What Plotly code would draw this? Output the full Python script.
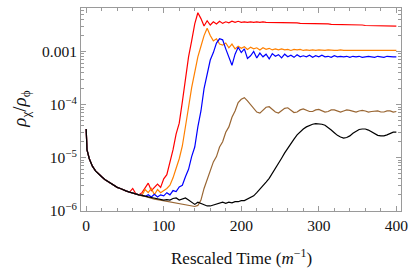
import plotly.graph_objects as go

# ---- data (log10 of rho_chi / rho_phi) ----
head_times = [0, 1] + list(range(4, 53, 4))
tail_times = list(range(56, 401, 4))
times = head_times + tail_times

baseline_log = [-4.46, -4.85, -5.02, -5.16, -5.25, -5.31, -5.36, -5.41, -5.45,
                -5.49, -5.53, -5.56, -5.58, -5.61, -5.63]

red_log = [
    -5.65, -5.58, -5.68, -5.70, -5.66, -5.58, -5.48, -5.62, -5.55, -5.50,
    -5.56, -5.40, -5.32, -5.10, -4.85, -4.55, -4.35, -3.95, -3.55, -3.10,
    -2.80, -2.48, -2.27, -2.38, -2.52, -2.42, -2.50, -2.44, -2.48, -2.43,
    -2.47, -2.44, -2.46, -2.43, -2.45, -2.43, -2.45, -2.44, -2.45, -2.44,
    -2.45, -2.44, -2.45, -2.44, -2.45, -2.45, -2.45, -2.45, -2.46, -2.45,
    -2.46, -2.46, -2.46, -2.46, -2.46, -2.47, -2.47, -2.47, -2.47, -2.47,
    -2.48, -2.48, -2.48, -2.48, -2.48, -2.49, -2.49, -2.49, -2.49, -2.49,
    -2.49, -2.50, -2.50, -2.50, -2.50, -2.50, -2.51, -2.51, -2.51, -2.51,
    -2.51, -2.51, -2.52, -2.52, -2.52, -2.52, -2.52]

orange_log = [
    -5.65, -5.67, -5.68, -5.70, -5.71, -5.60, -5.66, -5.58, -5.70, -5.60,
    -5.66, -5.62, -5.58, -5.52, -5.38, -5.20, -5.02, -4.78, -4.45, -4.05,
    -3.68, -3.35, -3.10, -2.90, -2.70, -2.56, -2.70, -2.80, -2.76, -2.86,
    -2.88, -2.84, -2.93, -2.86, -2.95, -2.90, -2.94, -2.91, -2.96, -2.92,
    -2.95, -2.93, -2.97, -2.93, -2.96, -2.94, -2.97, -2.95, -2.97, -2.95,
    -2.97, -2.96, -2.98, -2.96, -2.97, -2.96, -2.98, -2.97, -2.98, -2.97,
    -2.98, -2.97, -2.98, -2.98, -2.97, -2.98, -2.98, -2.98, -2.97, -2.98,
    -2.98, -2.98, -2.99, -2.98, -2.98, -2.98, -2.98, -2.99, -2.98, -2.98,
    -2.98, -2.98, -2.98, -2.98, -2.98, -2.98, -2.98]

blue_log = [
    -5.65, -5.67, -5.68, -5.70, -5.71, -5.73, -5.70, -5.74, -5.69, -5.74,
    -5.70, -5.72, -5.66, -5.70, -5.62, -5.64, -5.55, -5.52, -5.36, -5.22,
    -4.98, -4.80, -4.42, -4.12, -3.70, -3.45, -3.16, -3.02, -2.84, -2.76,
    -2.78, -2.95, -3.12, -3.26, -3.05, -2.92, -3.02, -2.95, -3.13, -3.08,
    -3.00, -3.12, -3.03, -3.10, -3.05, -3.14, -3.04, -3.09, -3.06, -3.12,
    -3.05, -3.10, -3.07, -3.11, -3.06, -3.10, -3.08, -3.10, -3.07, -3.11,
    -3.08, -3.10, -3.07, -3.10, -3.09, -3.11, -3.08, -3.10, -3.09, -3.10,
    -3.09, -3.11, -3.09, -3.10, -3.09, -3.11, -3.10, -3.09, -3.10, -3.11,
    -3.09, -3.10, -3.11, -3.09, -3.10, -3.10, -3.10]

brown_log = [
    -5.65, -5.67, -5.68, -5.70, -5.72, -5.73, -5.75, -5.76, -5.78, -5.79,
    -5.80, -5.81, -5.82, -5.83, -5.84, -5.85, -5.86, -5.87, -5.88, -5.89,
    -5.90, -5.92, -5.90, -5.80, -5.58, -5.42, -5.28, -5.08, -4.98, -4.80,
    -4.70, -4.52, -4.42, -4.24, -4.12, -3.96, -3.90, -3.87, -3.93, -4.00,
    -4.09, -4.14, -4.16, -4.10, -4.05, -4.04, -4.09, -4.14, -4.16, -4.11,
    -4.07, -4.06, -4.10, -4.15, -4.14, -4.10, -4.08, -4.10, -4.13, -4.13,
    -4.10, -4.09, -4.11, -4.14, -4.13, -4.10, -4.10, -4.12, -4.14, -4.12,
    -4.10, -4.11, -4.13, -4.14, -4.12, -4.11, -4.12, -4.14, -4.13, -4.12,
    -4.12, -4.14, -4.14, -4.12, -4.12, -4.14, -4.13]

black_log = [
    -5.65, -5.67, -5.68, -5.70, -5.71, -5.73, -5.74, -5.75, -5.76, -5.77,
    -5.78, -5.80, -5.79, -5.80, -5.77, -5.76, -5.80, -5.78, -5.76, -5.80,
    -5.84, -5.88, -5.84, -5.86, -5.89, -5.91, -5.91, -5.89, -5.87, -5.86,
    -5.84, -5.86, -5.84, -5.85, -5.83, -5.83, -5.81, -5.81, -5.78, -5.76,
    -5.72, -5.66, -5.60, -5.53, -5.46, -5.39, -5.30, -5.21, -5.10, -5.01,
    -4.91, -4.82, -4.72, -4.65, -4.57, -4.51, -4.46, -4.42, -4.39, -4.37,
    -4.36, -4.36, -4.37, -4.39, -4.43, -4.48, -4.53, -4.58, -4.61, -4.63,
    -4.62, -4.59, -4.54, -4.50, -4.47, -4.46, -4.46, -4.48, -4.51, -4.55,
    -4.58, -4.59, -4.59, -4.57, -4.54, -4.52, -4.52]

series = [
    ("red", red_log, "#ff0000"),
    ("orange", orange_log, "#ff8000"),
    ("blue", blue_log, "#0000ff"),
    ("brown", brown_log, "#996633"),
    ("black", black_log, "#000000"),
]

x_ticks = [0, 100, 200, 300, 400]
y_ticks = [1e-6, 1e-5, 1e-4, 1e-3]
y_tick_text = ["10<sup>\u22126</sup>", "10<sup>\u22125</sup>", "10<sup>\u22124</sup>", "0.001"]

for name, vals, _ in series:
    assert len(vals) == len(tail_times), (name, len(vals))

fig = go.Figure()
for name, vals, color in series:
    ys = [10 ** v for v in baseline_log + vals]
    fig.add_trace(go.Scatter(x=times, y=ys, mode="lines", name=name,
                             line=dict(color=color, width=1.2)))

minor_y = [m * 10 ** e for e in (-6, -5, -4, -3) for m in range(2, 10)]
minor_x = [v for v in range(20, 401, 20) if v % 100 != 0]

FONT = "Liberation Serif"
axis_common = dict(
    showline=True, linecolor="#9a9a9a", linewidth=1, mirror="allticks",
    ticks="inside", ticklen=5, tickcolor="#9a9a9a", tickwidth=1,
    showgrid=False, zeroline=False, ticklabeloverflow="allow",
    tickfont=dict(family=FONT, size=15.5, color="#111"),
)

fig.update_layout(
    width=415, height=270,
    margin=dict(l=81, r=7, t=8, b=59),
    paper_bgcolor="white", plot_bgcolor="white",
    showlegend=False,
    font=dict(family=FONT, color="#111"),
    xaxis=dict(range=[-6.7, 406], tickvals=x_ticks,
               minor=dict(tickvals=minor_x, ticks="inside", ticklen=3,
                          tickcolor="#9a9a9a"),
               **axis_common),
    yaxis=dict(type="log", range=[-6.005, -2.18], tickvals=y_ticks,
               ticktext=y_tick_text,
               minor=dict(tickvals=minor_y, ticks="inside", ticklen=3,
                          tickcolor="#9a9a9a"),
               **axis_common),
    annotations=[
        dict(text="Rescaled Time (<i>m</i><sup>\u22121</sup>)", xref="paper", yref="paper",
             x=0.5, y=-0.228, xanchor="center", yanchor="middle", showarrow=False,
             font=dict(family=FONT, size=17, color="#111")),
        dict(text="<i>\u03c1</i><sub>\u03c7</sub>/<i>\u03c1</i><sub>\u03d5</sub>",
             xref="paper", yref="paper", x=-0.19, y=0.5, textangle=-90,
             xanchor="center", yanchor="middle", showarrow=False,
             font=dict(family=FONT, size=19, color="#111")),
    ],
)

fig.write_html("out.html", config={"displayModeBar": False},
               post_script="document.body.style.margin='0';")
